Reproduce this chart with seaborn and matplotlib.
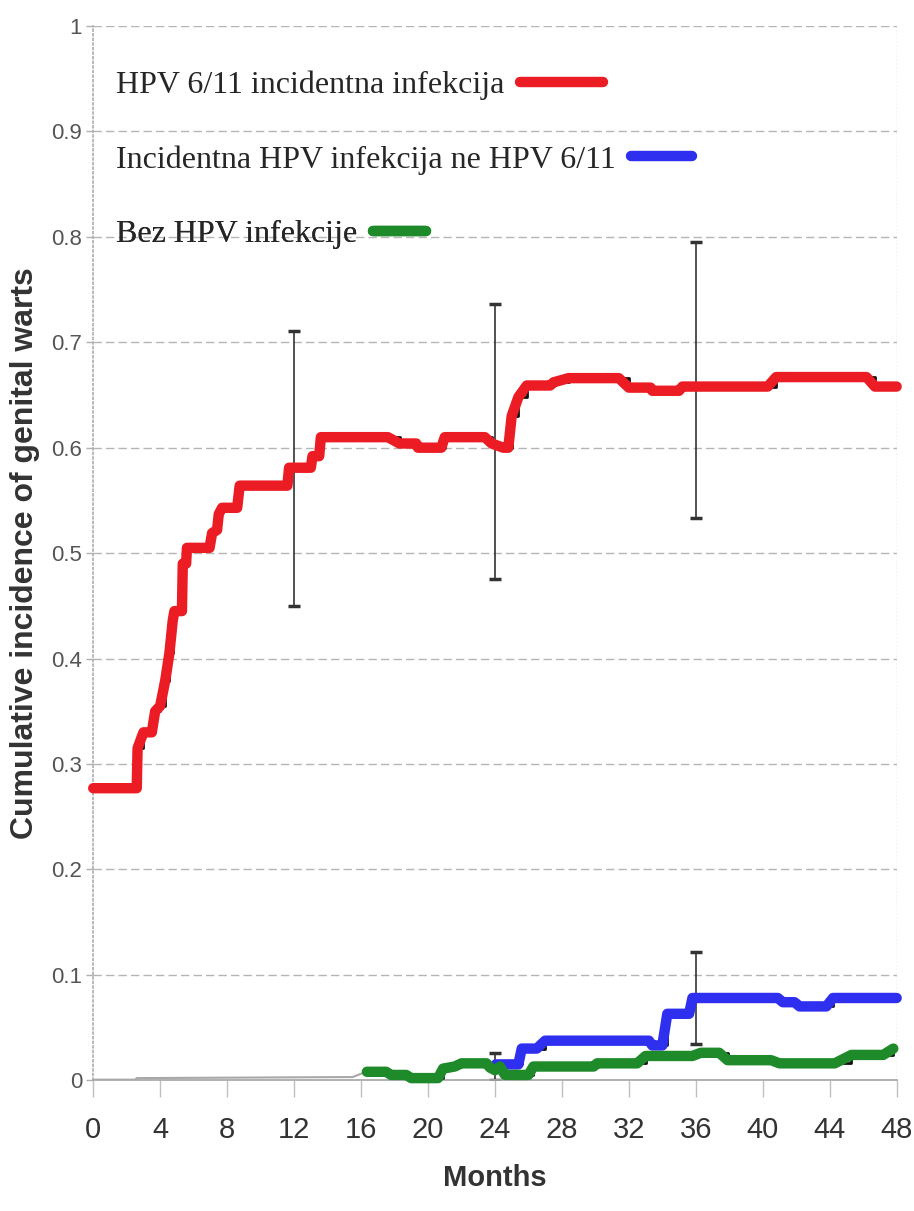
import numpy as np
import seaborn as sns
import matplotlib.pyplot as plt
from matplotlib.lines import Line2D

# values
red_months = [0, 2.6, 2.65, 3.0, 3.5, 3.7, 4.0, 4.3, 4.55, 4.75, 4.85, 5.3, 5.35, 5.55, 5.6,
              6.95, 7.1, 7.4, 7.5, 7.7, 8.6, 8.75, 11.6, 11.7, 13.0, 13.1, 13.5, 13.6, 17.6,
              18.3, 19.3, 19.4, 20.8, 21.0, 23.4, 23.8, 24.5, 24.8, 25.0, 25.4, 25.9, 27.3,
              27.5, 28.4, 31.4, 32.0, 33.3, 33.4, 35.0, 35.2, 40.3, 40.8, 46.2, 46.7, 48]
red_values = [0.277, 0.277, 0.315, 0.33, 0.33, 0.35, 0.355, 0.379, 0.405, 0.436, 0.445, 0.445,
              0.49, 0.49, 0.505, 0.505, 0.519, 0.522, 0.537, 0.543, 0.543, 0.564, 0.564, 0.581,
              0.581, 0.592, 0.592, 0.61, 0.61, 0.604, 0.604, 0.600, 0.600, 0.610, 0.610, 0.604,
              0.600, 0.600, 0.63, 0.648, 0.659, 0.659, 0.662, 0.666, 0.666, 0.657, 0.657, 0.654,
              0.654, 0.658, 0.658, 0.667, 0.667, 0.658, 0.658]

blue_months = [24.05, 25.4, 25.6, 26.5, 27.0, 33.2, 33.4, 34.0, 34.3, 35.6, 35.8, 40.9, 41.2,
               41.9, 42.2, 43.8, 44.2, 48]
blue_values = [0.015, 0.015, 0.030, 0.030, 0.0375, 0.0375, 0.033, 0.033, 0.063, 0.063, 0.078,
               0.078, 0.074, 0.074, 0.070, 0.070, 0.078, 0.078]

green_months = [16.35, 17.5, 17.8, 18.7, 19.0, 20.6, 20.9, 21.6, 22.0, 23.5, 23.7, 24.0, 24.3,
                24.6, 26.0, 26.3, 29.9, 30.1, 32.5, 33.0, 35.8, 36.3, 37.4, 37.9, 40.5, 41.0,
                44.3, 45.3, 47.2, 47.8]
green_values = [0.008, 0.008, 0.005, 0.005, 0.002, 0.002, 0.011, 0.013, 0.016, 0.016, 0.012,
                0.0095, 0.013, 0.005, 0.005, 0.013, 0.013, 0.016, 0.016, 0.023, 0.023, 0.026,
                0.026, 0.019, 0.019, 0.016, 0.016, 0.024, 0.024, 0.030]

grey_months = [0, 2.5, 2.6, 15.5, 16.3]
grey_values = [0.0005, 0.0005, 0.002, 0.003, 0.008]

# confidence bars (lower, upper)
red_ci_months = [12, 24, 36]
red_ci_low = [0.450, 0.475, 0.533]
red_ci_high = [0.711, 0.736, 0.795]
blue_ci_months = [24, 36]
blue_ci_low = [0.0, 0.034]
blue_ci_high = [0.026, 0.122]

x_ticks = list(range(0, 49, 4))
y_ticks = [0, 0.1, 0.2, 0.3, 0.4, 0.5, 0.6, 0.7, 0.8, 0.9, 1]
y_tick_labels = ["0", "0.1", "0.2", "0.3", "0.4", "0.5", "0.6", "0.7", "0.8", "0.9", "1"]

labels = ["HPV 6/11 incidentna infekcija",
          "Incidentna HPV infekcija ne HPV 6/11",
          "Bez HPV infekcije"]
RED, BLUE, GREEN = "#ec1c24", "#2f2ff0", "#1e8a2a"

sns.set_theme(style="white")
plt.rcParams['font.family'] = ['Liberation Sans', 'DejaVu Sans']

fig = plt.figure(figsize=(9.14, 12.11), dpi=100)
ax = fig.add_axes([0.102, 0.108, 0.879, 0.8705])

# grid and frame
for yv in y_ticks:
    ax.axhline(yv, color="#b5b5b5", lw=1.0, ls=(0, (6, 3)), zorder=0)
ax.axvline(48, color="#bdbdbd", lw=1.0, ls=":", zorder=0)
for side in ["top", "right"]:
    ax.spines[side].set_visible(False)
ax.spines["left"].set_color("#b0b0b0")
ax.spines["left"].set_linestyle(":")
ax.spines["bottom"].set_color("#a8a8a8")

# error bars
ax.errorbar(red_ci_months, red_ci_low, yerr=[np.zeros(3), np.subtract(red_ci_high, red_ci_low)],
            fmt="none", ecolor="#333333", elinewidth=1.2, capsize=4, capthick=2.5, zorder=1)
ax.errorbar(blue_ci_months, blue_ci_low, yerr=[np.zeros(2), np.subtract(blue_ci_high, blue_ci_low)],
            fmt="none", ecolor="#333333", elinewidth=1.2, capsize=4, capthick=2.5, zorder=1)

# faint baseline curve
sns.lineplot(x=grey_months, y=grey_values, sort=False, estimator=None, ax=ax,
             color="#a8a8a8", lw=1.5, zorder=2)

# thin black KM steps under the coloured lines
for m, v in [(red_months, red_values), (blue_months, blue_values), (green_months, green_values)]:
    sns.lineplot(x=m, y=v, sort=False, estimator=None, ax=ax, color="#111111",
                 lw=2.0, drawstyle="steps-post", zorder=3)

for m, v, c in [(red_months, red_values, RED), (blue_months, blue_values, BLUE),
                (green_months, green_values, GREEN)]:
    sns.lineplot(x=m, y=v, sort=False, estimator=None, ax=ax, color=c, lw=7.5,
                 solid_capstyle="round", solid_joinstyle="round", zorder=4, clip_on=False)

ax.set_xlim(0, 48)
ax.set_ylim(0, 1)
ax.set_xticks(x_ticks)
ax.set_xticklabels([str(t) for t in x_ticks], fontsize=21, color="#333333")
ax.set_yticks(y_ticks)
ax.set_yticklabels(y_tick_labels, fontsize=16, color="#555555")
ax.tick_params(axis="x", direction="out", length=12, width=1, color="#c0c0c0", pad=14, bottom=True)
ax.tick_params(axis="y", direction="out", length=5, width=1, color="#b0b0b0", pad=3, left=True)

ax.set_xlabel("Months", fontsize=21, fontweight="bold", color="#333333", labelpad=14)
ax.set_ylabel("Cumulative incidence of genital warts", fontsize=23, fontweight="bold",
              color="#333333", labelpad=8)

# legend: label text first, then coloured key
anchors = [0.944, 0.873, 0.802]
hlens = [2.6, 1.9, 1.65]
for lab, c, yy, hl in zip(labels, [RED, BLUE, GREEN], anchors, hlens):
    leg = ax.legend(handles=[Line2D([], [], color=c, lw=7.5, solid_capstyle="round")],
                    labels=[lab], loc="center left", bbox_to_anchor=(0.028, yy),
                    markerfirst=False, frameon=False, borderpad=0, borderaxespad=0,
                    handlelength=hl, handletextpad=0.5,
                    prop={"family": ["Liberation Serif", "DejaVu Serif"], "size": 23})
    ax.add_artist(leg)

fig.savefig("out.png", dpi=100)
